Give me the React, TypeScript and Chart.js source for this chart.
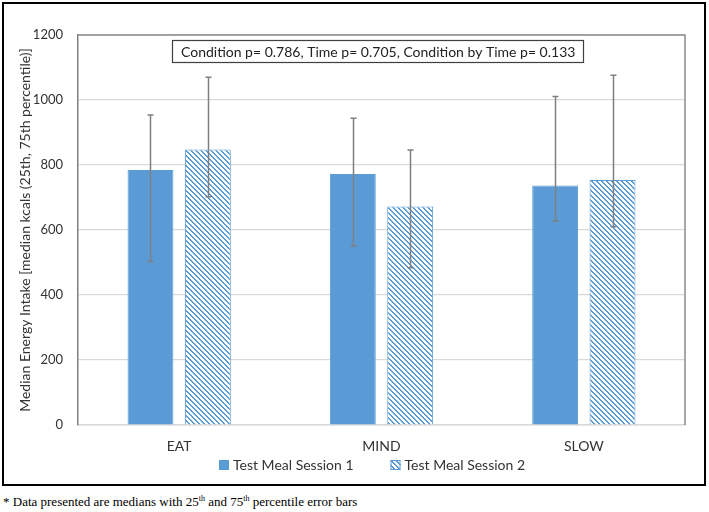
import React, { useEffect, useRef } from 'react';
import { Chart, registerables } from 'chart.js';

Chart.register(...registerables);

const categories = ['EAT', 'MIND', 'SLOW'];
const seriesLabels = ['Test Meal Session 1', 'Test Meal Session 2'];
const session1 = [785, 772, 737];
const session2 = [848, 672, 754];
const session1Low = [503, 551, 628];
const session1High = [954, 944, 1011];
const session2Low = [702, 484, 610];
const session2High = [1070, 846, 1076];
const yMin = 0;
const yMax = 1200;
const yStep = 200;
const annotationText = 'Condition p= 0.786, Time p= 0.705, Condition by Time p= 0.133';
const yTitle = 'Median Energy Intake [median kcals (25th, 75th percentile)]';

const BLUE = '#5B9BD5';
const FONT = 'Lato';

function makeHatch(): CanvasPattern | string {
  const p = 5;
  const c = document.createElement('canvas');
  c.width = p;
  c.height = p;
  const cx = c.getContext('2d');
  if (!cx) return BLUE;
  const img = cx.createImageData(p, p);
  for (let y = 0; y < p; y++) {
    for (let x = 0; x < p; x++) {
      const k = (((x - y) % p) + p) % p;
      const i = (y * p + x) * 4;
      if (k < 2) {
        img.data[i] = 0x5b; img.data[i + 1] = 0x9b; img.data[i + 2] = 0xd5; img.data[i + 3] = 255;
      } else {
        img.data[i] = 255; img.data[i + 1] = 255; img.data[i + 2] = 255; img.data[i + 3] = 255;
      }
    }
  }
  cx.putImageData(img, 0, 0);
  const pat = cx.createPattern(c, 'repeat');
  return pat || BLUE;
}

export default function App() {
  const ref = useRef<HTMLCanvasElement | null>(null);

  useEffect(() => {
    const canvas = ref.current;
    if (!canvas) return;
    const hatch = makeHatch();

    const extras = {
      id: 'extras',
      afterDatasetsDraw(chart: any) {
        const ctx = chart.ctx;
        const ys = chart.scales.y;
        const pairs = [[session1Low, session1High], [session2Low, session2High]];
        ctx.save();
        ctx.strokeStyle = '#7f7f7f';
        ctx.lineWidth = 1.5;
        pairs.forEach((pair, di) => {
          const meta = chart.getDatasetMeta(di);
          meta.data.forEach((bar: any, i: number) => {
            const x = Math.round(bar.x) + 0.5;
            const yl = ys.getPixelForValue(pair[0][i]);
            const yh = ys.getPixelForValue(pair[1][i]);
            ctx.beginPath();
            ctx.moveTo(x, yl);
            ctx.lineTo(x, yh);
            ctx.moveTo(x - 3, yl);
            ctx.lineTo(x + 3, yl);
            ctx.moveTo(x - 3, yh);
            ctx.lineTo(x + 3, yh);
            ctx.stroke();
          });
        });
        ctx.restore();
      },
      afterDraw(chart: any) {
        const ctx = chart.ctx;
        const a = chart.chartArea;
        ctx.save();
        // plot area top/right border
        ctx.strokeStyle = '#8c8c8c';
        ctx.lineWidth = 1.5;
        ctx.beginPath();
        ctx.moveTo(a.left, a.top);
        ctx.lineTo(a.right, a.top);
        ctx.lineTo(a.right, a.bottom);
        ctx.stroke();

        // annotation box
        ctx.fillStyle = '#ffffff';
        ctx.fillRect(168, 36, 411, 22);
        ctx.strokeStyle = '#404040';
        ctx.lineWidth = 1.2;
        ctx.strokeRect(168.5, 36.5, 411, 22);
        ctx.fillStyle = '#222222';
        ctx.font = `14px ${FONT}`;
        ctx.textBaseline = 'middle';
        ctx.textAlign = 'left';
        ctx.fillText(annotationText, 177, 48);

        // legend
        const ly = 461;
        ctx.font = `14px ${FONT}`;
        let lx = 215;
        seriesLabels.forEach((lab, i) => {
          if (i === 0) {
            ctx.fillStyle = BLUE;
            ctx.fillRect(lx, ly - 5, 10, 10);
          } else {
            ctx.fillStyle = hatch as any;
            ctx.fillRect(lx, ly - 5, 10, 10);
            ctx.strokeStyle = BLUE;
            ctx.lineWidth = 1;
            ctx.strokeRect(lx + 0.5, ly - 4.5, 9, 9);
          }
          ctx.fillStyle = '#333333';
          ctx.fillText(lab, lx + 14, ly);
          lx += 14 + ctx.measureText(lab).width + 37;
        });
        ctx.restore();
      },
    };

    const chart = new Chart(canvas, {
      type: 'bar',
      data: {
        labels: categories,
        datasets: [
          {
            label: seriesLabels[0],
            data: session1,
            backgroundColor: BLUE,
            borderColor: BLUE,
            borderWidth: 1,
          },
          {
            label: seriesLabels[1],
            data: session2,
            backgroundColor: hatch as any,
            borderColor: BLUE,
            borderWidth: 1,
          },
        ],
      },
      options: {
        animation: false,
        responsive: false,
        events: [],
        datasets: {
          bar: {
            categoryPercentage: 0.567,
            barPercentage: 0.8,
          },
        },
        layout: {
          padding: { left: 9, top: 31, right: 19, bottom: 29 },
        },
        plugins: {
          legend: { display: false },
          tooltip: { enabled: false },
        },
        scales: {
          x: {
            grid: { display: false, drawTicks: false },
            border: { display: true, color: '#d9d9d9', width: 1.5 },
            ticks: {
              color: '#333333',
              font: { family: FONT, size: 14 },
              padding: 13,
            },
            afterFit(scale: any) {
              scale.height = 30;
            },
          },
          y: {
            min: yMin,
            max: yMax,
            ticks: {
              stepSize: yStep,
              color: '#333333',
              font: { family: FONT, size: 13 },
              padding: 15,
              callback: (v: any) => String(v),
            },
            grid: { color: '#d9d9d9', lineWidth: 1.2, drawTicks: false },
            border: { display: true, color: '#7f7f7f', width: 1.5 },
            title: {
              display: true,
              text: yTitle,
              color: '#333333',
              font: { family: FONT, size: 14 },
              padding: { top: 4, bottom: 4 },
            },
            afterFit(scale: any) {
              scale.width = 65;
            },
          },
        },
      },
      plugins: [extras],
    });

    return () => chart.destroy();
  }, []);

  return (
    <div style={{ position: 'absolute', left: 0, top: 0, width: 709, height: 512, background: '#fff' }}>
      <div
        style={{
          position: 'absolute',
          left: 2,
          top: 2,
          width: 700,
          height: 480,
          border: '2px solid #000',
        }}
      >
        <canvas ref={ref} width={700} height={480} style={{ display: 'block', width: 700, height: 480 }} />
      </div>
      <div
        style={{
          position: 'absolute',
          left: 3,
          top: 494,
          fontFamily: '"Liberation Serif", "Times New Roman", serif',
          fontSize: 13,
          color: '#000',
          whiteSpace: 'nowrap',
        }}
      >
        * Data presented are medians with 25<sup style={{ fontSize: 8 }}>th</sup> and 75
        <sup style={{ fontSize: 8 }}>th</sup> percentile error bars
      </div>
    </div>
  );
}
